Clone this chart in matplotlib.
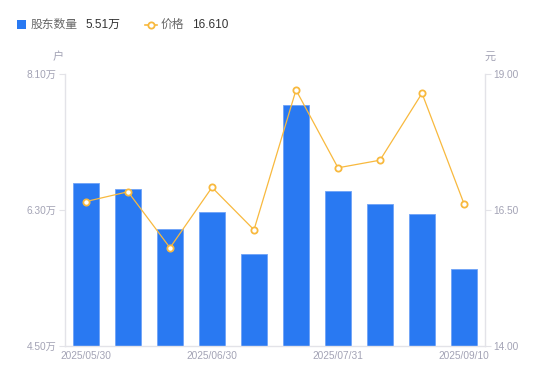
import matplotlib
matplotlib.use("Agg")
import matplotlib.pyplot as plt
from matplotlib.patches import Rectangle
from matplotlib.lines import Line2D

plt.rcParams['font.family'] = ['Liberation Sans', 'Noto Sans CJK SC', 'DejaVu Sans']

dates = ["2025/05/30", "2025/06/10", "2025/06/20", "2025/06/30", "2025/07/10",
         "2025/07/20", "2025/07/31", "2025/08/20", "2025/08/31", "2025/09/10"]
holders = [6.66, 6.57, 6.04, 6.27, 5.72, 7.68, 6.55, 6.38, 6.24, 5.51]  # 万户
prices = [16.65, 16.83, 15.80, 16.91, 16.13, 18.70, 17.27, 17.41, 18.64, 16.61]
left_ticks = [4.50, 6.30, 8.10]
right_ticks = [14.00, 16.50, 19.00]
shown_ticks = [0, 3, 6, 9]

BLUE = "#2979F2"
ORANGE = "#F8B93E"
GRAY = "#A3A3B5"
AXIS = "#E3E3E8"

W, H = 550, 381
fig = plt.figure(figsize=(W / 100, H / 100), dpi=100)
ax = fig.add_axes([65 / W, (H - 345.7) / H, 420 / W, 272 / H])
ax2 = ax.twinx()

x = list(range(len(dates)))
ax.bar(x, holders, width=0.6, color=BLUE, edgecolor="#6FA3F7", linewidth=0.6, zorder=2)
ax.set_xlim(-0.5, len(dates) - 0.5)
ax.set_ylim(left_ticks[0], left_ticks[-1])
ax.set_yticks(left_ticks)
ax.set_yticklabels([f"{v:.2f}万" for v in left_ticks])
ax.set_xticks([x[i] for i in shown_ticks])
ax.set_xticklabels([dates[i] for i in shown_ticks])

ax2.plot(x, prices, color=ORANGE, linewidth=0.9, marker="o", markersize=4.5,
         markerfacecolor="white", markeredgecolor=ORANGE, markeredgewidth=1.3, zorder=3)
ax2.set_ylim(right_ticks[0], right_ticks[-1])
ax2.set_yticks(right_ticks)
ax2.set_yticklabels([f"{v:.2f}" for v in right_ticks])

for a in (ax, ax2):
    for s in a.spines.values():
        s.set_visible(False)
ax.spines['left'].set_visible(True)
ax.spines['left'].set_color(AXIS)
ax.spines['bottom'].set_visible(True)
ax.spines['bottom'].set_color(AXIS)
ax2.spines['right'].set_visible(True)
ax2.spines['right'].set_color(AXIS)
for s in ('left', 'bottom'):
    ax.spines[s].set_linewidth(1)
ax2.spines['right'].set_linewidth(1)

ax.tick_params(axis='y', colors=AXIS, labelcolor=GRAY, labelsize=7.3, length=4, width=0.8, pad=2)
ax.tick_params(axis='x', length=0, labelcolor=GRAY, labelsize=7.3, pad=4)
ax2.tick_params(axis='y', colors=AXIS, labelcolor=GRAY, labelsize=7.3, length=4, width=0.8, pad=2)

ax.set_zorder(ax2.get_zorder() - 1)
ax.patch.set_visible(True)
ax2.patch.set_visible(False)

fig.text(58 / W, 1 - 57 / H, "户", color=GRAY, fontsize=8, ha='center', va='center')
fig.text(490 / W, 1 - 57 / H, "元", color=GRAY, fontsize=8, ha='center', va='center')

# legend
fig.patches.append(Rectangle((17 / W, 1 - 28.5 / H), 8.5 / W, 8.5 / H, transform=fig.transFigure,
                             facecolor=BLUE, edgecolor='none'))
fig.text(31 / W, 1 - 24.5 / H, "股东数量", color="#666666", fontsize=8.5, va='center')
fig.text(85 / W, 1 - 24.5 / H, f"{holders[-1]:.2f}万", color="#333333", fontsize=8.5, va='center')
fig.lines.append(Line2D([145 / W, 157 / W], [1 - 24.5 / H, 1 - 24.5 / H], transform=fig.transFigure,
                        color=ORANGE, linewidth=1.2))
fig.lines.append(Line2D([151 / W], [1 - 24.5 / H], transform=fig.transFigure,
                        color=ORANGE, marker='o', markersize=4.5, markerfacecolor='white',
                        markeredgecolor=ORANGE, markeredgewidth=1.3, linestyle='none'))
fig.text(161 / W, 1 - 24.5 / H, "价格", color="#666666", fontsize=8.5, va='center')
fig.text(192 / W, 1 - 24.5 / H, f"{prices[-1]:.3f}", color="#333333", fontsize=8.5, va='center')

fig.savefig("out.png", dpi=100)
